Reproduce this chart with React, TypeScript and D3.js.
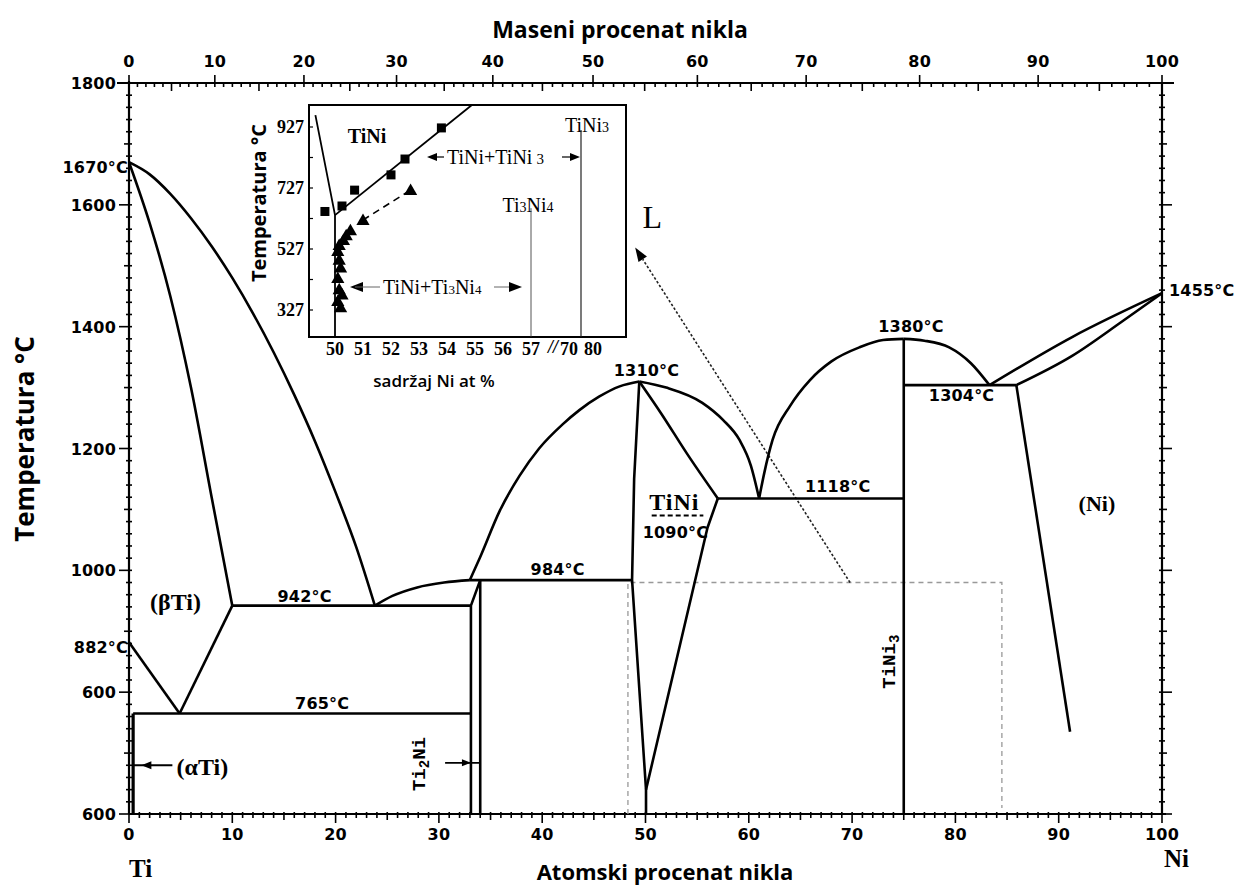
import React from "react";
import * as d3 from "d3";

// ---------- data (at.% Ni, °C) ----------
const tempTicks = [600, 800, 1000, 1200, 1400, 1600, 1800];
const tempTickLabels = ["600", "600", "1000", "1200", "1400", "1600", "1800"];
const atTicks = [0, 10, 20, 30, 40, 50, 60, 70, 80, 90, 100];
const wtTicks = [0, 10, 20, 30, 40, 50, 60, 70, 80, 90, 100];

const liquidusTi = [[0, 1670], [2, 1650], [4, 1618], [6, 1578], [8, 1532], [10, 1480], [12, 1422], [14, 1358], [16, 1288], [18, 1212], [20, 1128], [22, 1038], [23.8, 942]];
const solidusBeta = [[0, 1670], [2, 1570], [4, 1450], [6, 1300], [8, 1120], [10, 942]];
const betaTransus = [[0, 882], [4.9, 765]];
const betaSolvus = [[4.9, 765], [10, 942]];
const alphaSolvus = [[0.4, 765], [0.4, 600]];
const eutectoid765 = [[0.4, 765], [33.1, 765]];
const eutectic942 = [[10, 942], [33.1, 942]];
const liquidusEut2 = [[23.8, 942], [25.5, 958], [27.9, 972], [30.5, 980], [33, 984]];
const ti2NiLeft = [[33.1, 600], [33.1, 942], [34.0, 984]];
const ti2NiRight = [[34.0, 984], [34.0, 600]];
const peritectic984 = [[33, 984], [48.7, 984]];
const liquidusTiNiLeft = [[33, 984], [34, 1022], [35.9, 1098], [37.8, 1155], [39.7, 1200], [42, 1240], [43.6, 1263], [45.5, 1285], [47.5, 1302], [49.4, 1310]];
const tiNiLeft = [[49.4, 1310], [48.9, 1150], [48.7, 984], [50.05, 640], [50.05, 600]];
const tiNiSolidusRight = [[49.4, 1310], [51.5, 1258], [54, 1192], [57, 1118]];
const tiNiSolvusRight = [[57, 1118], [56, 1070], [50.05, 640]];
const liquidusTiNiRight = [[49.4, 1310], [52, 1300], [55.5, 1275], [57.5, 1247], [59.1, 1214], [60.2, 1172], [61, 1118]];
const eutectic1118 = [[57, 1118], [75, 1118]];
const liquidusTiNi3Left = [[61, 1118], [61.5, 1160], [62.3, 1214], [64, 1270], [65.9, 1312], [68, 1343], [70.7, 1366], [73, 1378], [75, 1380]];
const liquidusTiNi3Right = [[75, 1380], [77, 1377], [79.4, 1366], [81.5, 1340], [83.3, 1304]];
const tiNi3Line = [[75, 1380], [75, 600]];
const eutectic1304 = [[75, 1304], [85.9, 1304]];
const liquidusNi = [[83.3, 1304], [91.3, 1383], [100, 1455]];
const solidusNi = [[85.9, 1304], [91.3, 1352], [96.1, 1408], [100, 1455]];
const solvusNi = [[85.9, 1304], [91.1, 735]];
const tiNiOrder1090 = [[50.6, 1090], [55.6, 1090]];
const dashedBox = [[48.3, 600], [48.3, 980], [84.5, 980], [84.5, 610]];
const pointerArrow = [[69.8, 980], [49.0, 1530]];

// inset data (at.% Ni, °C)
const insetYTicks = [327, 527, 727, 927];
const insetXTicks = [50, 51, 52, 53, 54, 55, 56, 57, 70, 80];
const insetLeftBoundary = [[49.3, 966], [50, 638], [50, 240]];
const insetSolvus = [[50, 638], [54.9, 1000]];
const insetSquares = [[49.64, 650], [50.25, 668], [50.7, 720], [52.0, 770], [52.5, 822], [53.8, 924]];
const insetTriangles = [[52.7, 720], [51.0, 622], [50.55, 588], [50.4, 572], [50.3, 556], [50.15, 540], [50.1, 520], [50.15, 492], [50.2, 466], [50.1, 432], [50.15, 395], [50.25, 378], [50.1, 356], [50.2, 336]];
const insetDashed = [[51.0, 622], [52.7, 720]];
const insetTi3Ni4 = [[57, 661], [57, 240]];
const insetTiNi3 = [[75, 917], [75, 240]];

// ---------- scales ----------
const x = d3.scaleLinear().domain([0, 100]).range([129, 1162]);
const y = d3.scaleLinear().domain([600, 1800]).range([814, 83]);
const MTi = 47.867, MNi = 58.693;
const wtToAt = (w: number) => (100 * (w / MNi)) / (w / MNi + (100 - w) / MTi);

const IB = { left: 309, top: 105, right: 626, bottom: 337 };
const ix = d3.scaleLinear().domain([50, 57, 70, 80]).range([335, 531, 569, 593]);
const iy = d3.scaleLinear().domain([327, 927]).range([310, 127]);

const NUM = "'DejaVu Sans', sans-serif";
const SERIF = "'Liberation Serif', 'DejaVu Serif', serif";
const SANS = "'Open Sans', 'Noto Sans', sans-serif";
const MONO = "'Liberation Mono', 'DejaVu Sans Mono', monospace";

export default function App() {
  const lin = d3.line<number[]>().x(d => x(d[0])).y(d => y(d[1]));
  const crv = d3.line<number[]>().x(d => x(d[0])).y(d => y(d[1])).curve(d3.curveMonotoneX);
  const ilin = d3.line<number[]>().x(d => ix(d[0])).y(d => iy(d[1]));

  const X0 = x(0), X1 = x(100), Y0 = y(600), Y1 = y(1800);
  const thick = { stroke: "#000", strokeWidth: 2.6, fill: "none", strokeLinejoin: "round" as const };

  const leftTicks = d3.range(600, 1801, 20);
  const botMinor = d3.range(0, 101, 1);
  const topMinor = d3.range(0, 101, 1);

  const tri = (cx: number, cy: number, s: number) =>
    `M${cx},${cy - s * 0.6}L${cx + s * 0.6},${cy + s * 0.45}L${cx - s * 0.6},${cy + s * 0.45}Z`;

  const numStyle = { fontFamily: NUM, fontWeight: 700, fontSize: 16, letterSpacing: 0.2 } as const;
  const iSerifB = { fontFamily: SERIF, fontWeight: 700, fontSize: 18 } as const;
  const iSerif = { fontFamily: SERIF, fontSize: 20 } as const;

  const arrowTip = (tx: number, ty: number, dir: number, len = 10, half = 4) =>
    `M${tx},${ty}L${tx - dir * len},${ty - half}L${tx - dir * len},${ty + half}Z`;

  // pointer arrow geometry
  const pa0 = [x(pointerArrow[0][0]), y(pointerArrow[0][1])];
  const pa1 = [x(pointerArrow[1][0]), y(pointerArrow[1][1])];
  const ang = Math.atan2(pa1[1] - pa0[1], pa1[0] - pa0[0]);
  const hl = 14, hw = 5;
  const bx = pa1[0] - hl * Math.cos(ang), by = pa1[1] - hl * Math.sin(ang);
  const headPts = `${pa1[0]},${pa1[1]} ${bx + hw * Math.sin(ang)},${by - hw * Math.cos(ang)} ${bx - hw * Math.sin(ang)},${by + hw * Math.cos(ang)}`;

  return (
    <svg width={1240} height={886} style={{ position: "absolute", left: 0, top: 0, background: "#fff" }}>
      <rect width={1240} height={886} fill="#fff" />

      {/* axes frame */}
      <line x1={X0} y1={Y1 - 2} x2={X0} y2={Y0} stroke="#000" strokeWidth={2.2} />
      <line x1={X1} y1={Y1} x2={X1} y2={Y0} stroke="#000" strokeWidth={2.2} />
      <line x1={X0 - 12} y1={Y1} x2={X1 + 12} y2={Y1} stroke="#000" strokeWidth={2.2} />
      <line x1={X0} y1={Y0} x2={X1 + 4} y2={Y0} stroke="#000" strokeWidth={2.2} />

      {/* left / right ticks */}
      {leftTicks.map(v => {
        const major = v % 200 === 0;
        const mid = v % 100 === 0;
        const L = major ? 10 : mid ? 5 : 3;
        return (
          <g key={"lt" + v}>
            <line x1={X0 - L} x2={X0 + 3} y1={y(v)} y2={y(v)} stroke="#000" strokeWidth={1.6} />
            <line x1={X1 - 3} x2={X1 + L} y1={y(v)} y2={y(v)} stroke="#000" strokeWidth={1.6} />
          </g>
        );
      })}
      {tempTicks.map((v, i) => (
        <text key={"tl" + v} x={X0 - 13} y={y(v) + 6} textAnchor="end" style={numStyle}>{tempTickLabels[i]}</text>
      ))}

      {/* bottom ticks */}
      {botMinor.map(v => {
        const L = v % 10 === 0 ? 9 : v % 5 === 0 ? 6 : 4;
        return <line key={"bt" + v} x1={x(v)} x2={x(v)} y1={Y0 - 2} y2={Y0 + L} stroke="#000" strokeWidth={1.6} />;
      })}
      {atTicks.map(v => (
        <text key={"bl" + v} x={x(v)} y={Y0 + 26} textAnchor="middle" style={numStyle}>{v}</text>
      ))}

      {/* top ticks (weight %) */}
      {topMinor.map(w => {
        const xx = x(wtToAt(w));
        if (w % 10 === 0) return <line key={"tt" + w} x1={xx} x2={xx} y1={Y1 - 8} y2={Y1 + 4} stroke="#000" strokeWidth={1.6} />;
        const L = w % 5 === 0 ? 8 : 4;
        return <line key={"tt" + w} x1={xx} x2={xx} y1={Y1} y2={Y1 + L} stroke="#000" strokeWidth={1.6} />;
      })}
      {wtTicks.map(w => (
        <text key={"tw" + w} x={x(wtToAt(w))} y={Y1 - 16} textAnchor="middle" style={numStyle}>{w}</text>
      ))}

      {/* axis titles */}
      <text x={620} y={38} textAnchor="middle" style={{ fontFamily: SANS, fontWeight: 700, fontSize: 23 }}>Maseni procenat nikla</text>
      <text x={665} y={880} textAnchor="middle" style={{ fontFamily: SANS, fontWeight: 700, fontSize: 22 }}>Atomski procenat nikla</text>
      <text transform={`translate(34,439) rotate(-90)`} textAnchor="middle" style={{ fontFamily: SANS, fontWeight: 700, fontSize: 26 }}>Temperatura °C</text>
      <text x={129} y={877} style={{ fontFamily: SERIF, fontWeight: 700, fontSize: 25 }}>Ti</text>
      <text x={1164} y={867} style={{ fontFamily: SERIF, fontWeight: 700, fontSize: 25 }}>Ni</text>

      {/* dashed box and pointer */}
      <path d={lin(dashedBox) || ""} fill="none" stroke="#999" strokeWidth={1.3} strokeDasharray="5,4" />
      <line x1={pa0[0]} y1={pa0[1]} x2={bx} y2={by} stroke="#222" strokeWidth={1.6} strokeDasharray="2.5,2" />
      <polygon points={headPts} fill="#000" />

      {/* phase boundaries */}
      <path d={crv(liquidusTi) || ""} {...thick} />
      <path d={crv(solidusBeta) || ""} {...thick} />
      <path d={lin(betaTransus) || ""} {...thick} />
      <path d={lin(betaSolvus) || ""} {...thick} />
      <path d={lin(alphaSolvus) || ""} {...thick} strokeWidth={3.2} />
      <path d={lin(eutectoid765) || ""} {...thick} />
      <path d={lin(eutectic942) || ""} {...thick} />
      <path d={crv(liquidusEut2) || ""} {...thick} />
      <path d={lin(ti2NiLeft) || ""} {...thick} />
      <path d={lin(ti2NiRight) || ""} {...thick} />
      <path d={lin(peritectic984) || ""} {...thick} />
      <path d={crv(liquidusTiNiLeft) || ""} {...thick} />
      <path d={lin(tiNiLeft) || ""} {...thick} />
      <path d={crv(tiNiSolidusRight) || ""} {...thick} />
      <path d={lin(tiNiSolvusRight) || ""} {...thick} />
      <path d={crv(liquidusTiNiRight) || ""} {...thick} />
      <path d={lin(eutectic1118) || ""} {...thick} />
      <path d={crv(liquidusTiNi3Left) || ""} {...thick} />
      <path d={crv(liquidusTiNi3Right) || ""} {...thick} />
      <path d={lin(tiNi3Line) || ""} {...thick} />
      <path d={lin(eutectic1304) || ""} {...thick} />
      <path d={crv(liquidusNi) || ""} {...thick} />
      <path d={crv(solidusNi) || ""} {...thick} />
      <path d={lin(solvusNi) || ""} {...thick} />
      <path d={lin(tiNiOrder1090) || ""} stroke="#000" strokeWidth={2} strokeDasharray="5,3" fill="none" />

      {/* temperature labels */}
      <text x={X0 - 1} y={y(1670) + 11} textAnchor="end" style={numStyle}>1670°C</text>
      <text x={X0 - 1} y={y(882) + 11} textAnchor="end" style={numStyle}>882°C</text>
      <text x={X1 + 7} y={y(1455) + 3} textAnchor="start" style={numStyle}>1455°C</text>
      <text x={x(17.0)} y={y(942) - 4} textAnchor="middle" style={numStyle}>942°C</text>
      <text x={x(18.7)} y={y(765) - 4} textAnchor="middle" style={numStyle}>765°C</text>
      <text x={x(41.5)} y={y(984) - 5} textAnchor="middle" style={numStyle}>984°C</text>
      <text x={x(50.1)} y={y(1310) - 5} textAnchor="middle" style={numStyle}>1310°C</text>
      <text x={x(68.6)} y={y(1118) - 6} textAnchor="middle" style={numStyle}>1118°C</text>
      <text x={x(75.7)} y={y(1380) - 7} textAnchor="middle" style={numStyle}>1380°C</text>
      <text x={x(80.6)} y={y(1304) + 16} textAnchor="middle" style={numStyle}>1304°C</text>
      <text x={x(52.9)} y={y(1090) + 22} textAnchor="middle" style={numStyle}>1090°C</text>

      {/* phase labels */}
      <text x={x(52.8)} y={y(1090) - 6} textAnchor="middle" style={{ fontFamily: SERIF, fontWeight: 700, fontSize: 24, letterSpacing: 1 }}>TiNi</text>
      <text x={x(93.7)} y={511} textAnchor="middle" style={{ fontFamily: SERIF, fontWeight: 700, fontSize: 22 }}>(Ni)</text>
      <text x={x(4.5)} y={610} textAnchor="middle" style={{ fontFamily: SERIF, fontWeight: 700, fontSize: 24 }}>(βTi)</text>
      <text x={x(7.1)} y={775} textAnchor="middle" style={{ fontFamily: SERIF, fontWeight: 700, fontSize: 24 }}>(αTi)</text>
      <text x={x(49.7)} y={228} textAnchor="start" style={{ fontFamily: SERIF, fontSize: 32 }}>L</text>
      <text transform={`translate(${x(74.2)},${y(850)}) rotate(-90)`} textAnchor="middle" style={{ fontFamily: MONO, fontWeight: 700, fontSize: 19 }}>
        TiNi<tspan fontSize={14} dy={4}>3</tspan>
      </text>
      <text transform={`translate(${x(28.7)},${y(682)}) rotate(-90)`} textAnchor="middle" style={{ fontFamily: MONO, fontWeight: 700, fontSize: 19 }}>
        Ti<tspan fontSize={14} dy={4}>2</tspan><tspan dy={-4}>Ni</tspan>
      </text>

      {/* small arrows */}
      <line x1={x(0.4)} x2={x(4.2)} y1={y(680)} y2={y(680)} stroke="#000" strokeWidth={1.8} />
      <path d={arrowTip(x(1.2), y(680), -1)} fill="#000" />
      <line x1={x(30.6)} x2={x(34.0)} y1={y(684)} y2={y(684)} stroke="#000" strokeWidth={1.8} />
      <path d={arrowTip(x(33.1), y(684), 1, 9, 3.5)} fill="#000" />

      {/* ---------- inset ---------- */}
      <rect x={IB.left} y={IB.top} width={IB.right - IB.left} height={IB.bottom - IB.top} fill="#fff" stroke="#000" strokeWidth={2} />
      {d3.range(327, 1000, 100).map(v => (
        <line key={"iyt" + v} x1={IB.left} x2={IB.left + 4} y1={iy(v)} y2={iy(v)} stroke="#000" strokeWidth={1.2} />
      ))}
      {insetYTicks.map(v => (
        <text key={"iyl" + v} x={IB.left - 5} y={iy(v) + 6} textAnchor="end" style={iSerifB}>{v}</text>
      ))}
      {insetXTicks.map(v => (
        <text key={"ixl" + v} x={ix(v)} y={IB.bottom + 18} textAnchor="middle" style={iSerifB}>{v}</text>
      ))}
      <text x={553} y={IB.bottom + 16} textAnchor="middle" style={{ ...iSerifB, fontStyle: "italic" }}>//</text>
      <text x={434} y={387} textAnchor="middle" style={{ fontFamily: SANS, fontWeight: 600, fontSize: 17 }}>sadržaj Ni at %</text>
      <text transform={`translate(266,203) rotate(-90)`} textAnchor="middle" style={{ fontFamily: SANS, fontWeight: 700, fontSize: 20 }}>Temperatura °C</text>

      <path d={ilin(insetLeftBoundary) || ""} fill="none" stroke="#000" strokeWidth={1.8} />
      <path d={ilin(insetSolvus) || ""} fill="none" stroke="#000" strokeWidth={1.8} />
      <path d={ilin(insetDashed) || ""} fill="none" stroke="#000" strokeWidth={1.6} strokeDasharray="7,5" />
      <path d={ilin(insetTi3Ni4) || ""} fill="none" stroke="#555" strokeWidth={1} />
      <path d={ilin(insetTiNi3) || ""} fill="none" stroke="#333" strokeWidth={1.3} />
      {insetSquares.map((d, i) => (
        <rect key={"sq" + i} x={ix(d[0]) - 4.5} y={iy(d[1]) - 4.5} width={9} height={9} fill="#000" />
      ))}
      {insetTriangles.map((d, i) => (
        <path key={"tr" + i} d={tri(ix(d[0]), iy(d[1]), 11)} fill="#000" />
      ))}

      <text x={367} y={143} textAnchor="middle" style={{ fontFamily: SERIF, fontWeight: 700, fontSize: 20 }}>TiNi</text>
      <text x={587} y={132} textAnchor="middle" style={iSerif}>
        TiNi<tspan fontSize={14}>3</tspan>
      </text>
      <text x={528} y={212} textAnchor="middle" style={iSerif}>
        Ti<tspan fontSize={14}>3</tspan>Ni<tspan fontSize={14}>4</tspan>
      </text>
      {/* TiNi+TiNi3 */}
      <path d={arrowTip(427, 157, -1, 10, 4)} fill="#000" />
      <line x1={430} x2={444} y1={157} y2={157} stroke="#000" strokeWidth={1.2} />
      <text x={447} y={164} style={iSerif}>TiNi+TiNi<tspan fontSize={15} dx={4}>3</tspan></text>
      <line x1={562} x2={572} y1={157} y2={157} stroke="#000" strokeWidth={1.2} />
      <path d={arrowTip(580, 157, 1, 10, 4)} fill="#000" />
      {/* TiNi+Ti3Ni4 */}
      <path d={arrowTip(350, 287, -1, 13, 5)} fill="#000" />
      <line x1={355} x2={380} y1={287} y2={287} stroke="#666" strokeWidth={1} />
      <text x={383} y={294} style={iSerif}>TiNi+Ti<tspan fontSize={13}>3</tspan>Ni<tspan fontSize={13}>4</tspan></text>
      <line x1={494} x2={510} y1={287} y2={287} stroke="#666" strokeWidth={1} />
      <path d={arrowTip(522, 287, 1, 13, 5)} fill="#000" />
    </svg>
  );
}
